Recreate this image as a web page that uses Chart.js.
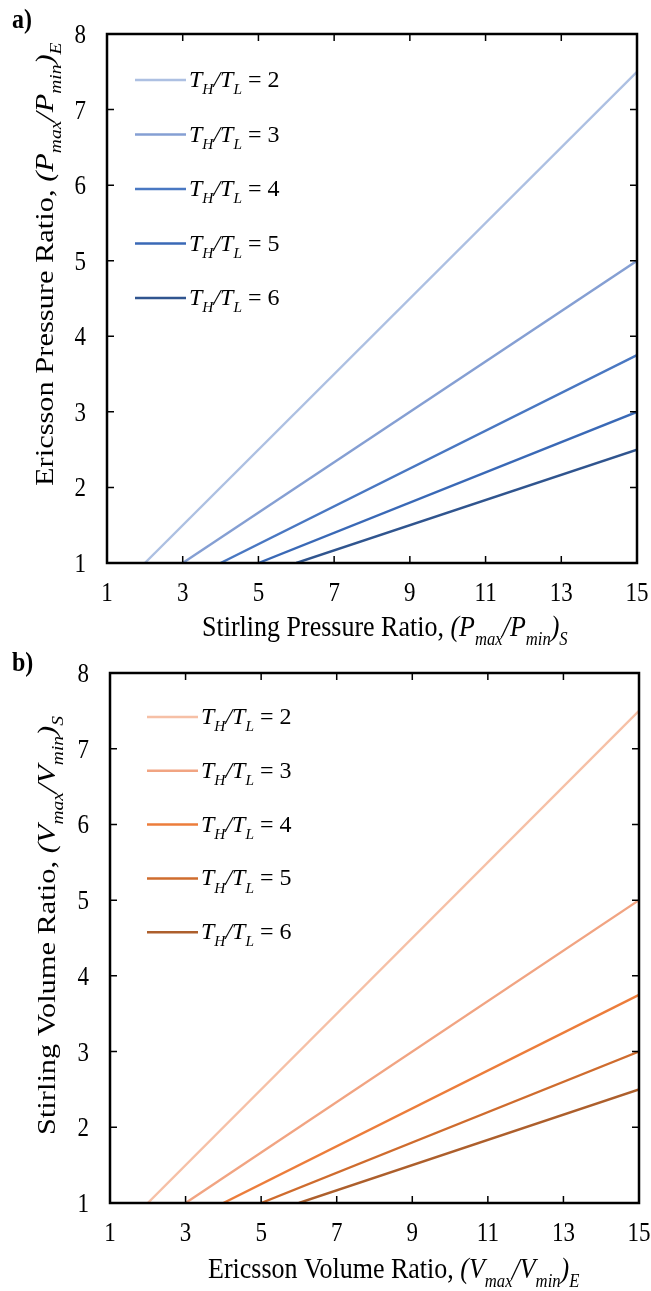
<!DOCTYPE html>
<html>
<head>
<meta charset="utf-8">
<script src="https://cdn.jsdelivr.net/npm/chart.js@4"></script>
<style>
  body { margin: 0; background: #fff; }
  canvas { display: block; }
</style>
</head>
<body>
<canvas id="chartA" width="651" height="645"></canvas>
<canvas id="chartB" width="651" height="646"></canvas>
<script>
// temperature ratios T_H/T_L
const ratios = [2, 3, 4, 5, 6];
// x where each line leaves y = 1, and y reached at x = 15
const startX = [2, 3, 4, 5, 6];
const endX = [15, 15, 15, 15, 15];
const startY = [1, 1, 1, 1, 1];
const endY = [7.5, 5, 3.75, 3, 2.5];
const xTicks = [1, 3, 5, 7, 9, 11, 13, 15];
const yTicks = [1, 2, 3, 4, 5, 6, 7, 8];

const bluesColors = ['#adc0e2', '#859fd3', '#4a78c2', '#3a69b6', '#30558f'];
const orangeColors = ['#f6c0a6', '#f1a482', '#ec7d3b', '#cf6c2e', '#ad5f2c'];

const FONT = "'Liberation Serif', 'Times New Roman', serif";
const STRETCH = 1.17; // text in the figure is drawn a bit tall

// runs: [text, style]  style: n = normal, i = italic, s = italic subscript
function drawRich(ctx, runs, x, y, size, k, rotated) {
    ctx.save();
    ctx.translate(x, y);
    if (rotated) {
        ctx.rotate(-Math.PI / 2);
        ctx.scale(k, 1);
    } else {
        ctx.scale(1, k);
    }
    ctx.textBaseline = 'alphabetic';
    ctx.textAlign = 'left';
    let cx = 0;
    runs.forEach(([t, s]) => {
        const sz = s === 's' ? size * 0.64 : size;
        ctx.font = (s === 'n' ? '' : 'italic ') + sz + 'px ' + FONT;
        ctx.fillText(t, cx, s === 's' ? size * 0.3 : 0);
        cx += ctx.measureText(t).width;
    });
    ctx.restore();
}

function labelRuns(r) {
    return [['T', 'i'], ['H', 's'], ['/T', 'i'], ['L', 's'], [' = ' + r, 'n']];
}

const framePlugin = {
    id: 'frame',
    afterDraw(chart, args, opts) {
        const ctx = chart.ctx;
        const a = chart.chartArea;
        const xs = chart.scales.x, ys = chart.scales.y;
        ctx.save();
        ctx.strokeStyle = '#000';
        ctx.fillStyle = '#000';
        // inward ticks on all four sides
        ctx.lineWidth = 1.5;
        ctx.beginPath();
        xTicks.forEach(v => {
            const px = xs.getPixelForValue(v);
            ctx.moveTo(px, a.bottom); ctx.lineTo(px, a.bottom - 7);
            ctx.moveTo(px, a.top); ctx.lineTo(px, a.top + 7);
        });
        yTicks.forEach(v => {
            const py = ys.getPixelForValue(v);
            ctx.moveTo(a.left, py); ctx.lineTo(a.left + 7, py);
            ctx.moveTo(a.right, py); ctx.lineTo(a.right - 7, py);
        });
        ctx.stroke();
        ctx.lineWidth = 2.5;
        ctx.strokeRect(a.left, a.top, a.right - a.left, a.bottom - a.top);

        // tick labels
        ctx.font = '23px ' + FONT;
        xTicks.forEach(v => {
            ctx.save();
            ctx.translate(xs.getPixelForValue(v), a.bottom + 38);
            ctx.scale(1, STRETCH);
            ctx.textAlign = 'center';
            ctx.fillText(String(v), 0, 0);
            ctx.restore();
        });
        yTicks.forEach(v => {
            ctx.save();
            ctx.translate(a.left - 21, ys.getPixelForValue(v) + 9);
            ctx.scale(1, STRETCH);
            ctx.textAlign = 'right';
            ctx.fillText(String(v), 0, 0);
            ctx.restore();
        });

        // legend
        chart.data.datasets.forEach((ds, i) => {
            const ly = a.top + opts.legY + i * opts.legGap;
            ctx.strokeStyle = ds.borderColor;
            ctx.lineWidth = 2.5;
            ctx.beginPath();
            ctx.moveTo(a.left + opts.legX, ly);
            ctx.lineTo(a.left + opts.legX + 51, ly);
            ctx.stroke();
            drawRich(ctx, labelRuns(ratios[i]), a.left + opts.legX + 54, ly + 7, 24, 1, false);
        });

        // panel letter
        ctx.save();
        ctx.translate(12, opts.letterY);
        ctx.scale(1, STRETCH);
        ctx.font = 'bold 24px ' + FONT;
        ctx.textAlign = 'left';
        ctx.fillText(opts.letter, 0, 0);
        ctx.restore();

        // axis titles
        drawRich(ctx, opts.xTitle, opts.xTitleX, opts.xTitleY, 26, STRETCH, false);
        drawRich(ctx, opts.yTitle, opts.yTitleX, opts.yTitleY, 26, STRETCH, true);
        ctx.restore();
    }
};

function makeChart(id, colors, pad, frame) {
    const datasets = ratios.map((r, i) => ({
        label: 'TH/TL = ' + r,
        data: [{ x: startX[i], y: startY[i] }, { x: endX[i], y: endY[i] }],
        showLine: true,
        borderColor: colors[i],
        borderWidth: 2.4,
        pointRadius: 0,
        fill: false
    }));
    return new Chart(document.getElementById(id).getContext('2d'), {
        type: 'scatter',
        data: { datasets: datasets },
        options: {
            responsive: false,
            animation: false,
            layout: { padding: pad },
            plugins: { legend: { display: false }, tooltip: { enabled: false }, frame: frame },
            scales: {
                x: { type: 'linear', min: 1, max: 15, display: false },
                y: { type: 'linear', min: 1, max: 8, display: false }
            }
        },
        plugins: [framePlugin]
    });
}

makeChart('chartA', bluesColors, { top: 34, right: 14, left: 107, bottom: 82 }, {
    letter: 'a)', letterY: 28,
    legX: 28, legY: 46, legGap: 54.5,
    xTitle: [['Stirling Pressure Ratio, ', 'n'], ['(P', 'i'], ['max', 's'], ['/P', 'i'], ['min', 's'], [')', 'i'], ['S', 's']],
    xTitleX: 202, xTitleY: 636,
    yTitle: [['Ericsson Pressure Ratio, ', 'n'], ['(P', 'i'], ['max', 's'], ['/P', 'i'], ['min', 's'], [')', 'i'], ['E', 's']],
    yTitleX: 53, yTitleY: 486
});

makeChart('chartB', orangeColors, { top: 28, right: 12, left: 110, bottom: 88 }, {
    letter: 'b)', letterY: 26,
    legX: 37, legY: 44, legGap: 53.8,
    xTitle: [['Ericsson Volume Ratio, ', 'n'], ['(V', 'i'], ['max', 's'], ['/V', 'i'], ['min', 's'], [')', 'i'], ['E', 's']],
    xTitleX: 208, xTitleY: 633,
    yTitle: [['Stirling Volume Ratio, ', 'n'], ['(V', 'i'], ['max', 's'], ['/V', 'i'], ['min', 's'], [')', 'i'], ['S', 's']],
    yTitleX: 55, yTitleY: 490
});
</script>
</body>
</html>
